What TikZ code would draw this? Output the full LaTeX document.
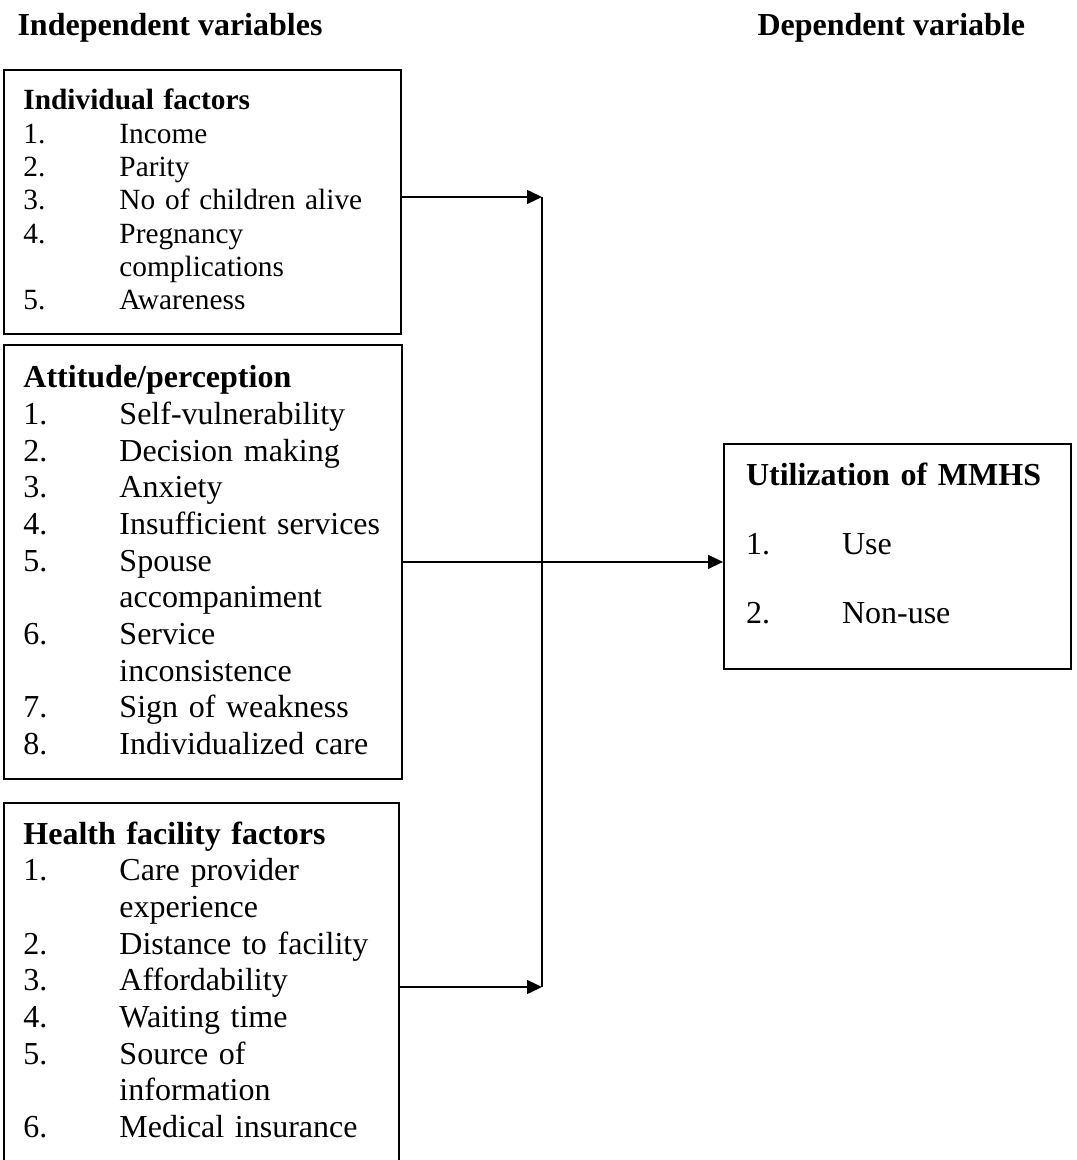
\documentclass[tikz,border=0pt]{standalone}
\usepackage{fontspec}
\setmainfont{Liberation Serif}
\usetikzlibrary{positioning}
\usetikzlibrary{arrows.meta}

\newcommand{\itm}[2]{\makebox[36pt][l]{#1}#2}
\newcommand{\cont}[1]{\hspace*{36pt}#1}

\begin{document}
\begin{tikzpicture}
	[x=0.375pt, y=-0.375pt,
	box/.style={draw, line width=0.75pt, anchor=north west, align=left, inner ysep=0pt, inner xsep=7.3pt},
	head/.style={anchor=base west, inner sep=0pt, font={\fontsize{12}{14}\selectfont\bfseries}},
	link/.style={line width=0.6pt},
	>={Triangle[length=5.6pt, width=5.2pt]}]

	\useasboundingbox (0,0) rectangle (1076,1160);

	% headings
	\node [head] (indep) at (17,36) {Independent variables};
	\node [head] (dep) at (757,36) {Dependent variable};

	% boxes
	\node [box, text width=134.3pt, text height=15pt, text depth=84pt, font={\fontsize{11}{12.5}\selectfont}] (ind) at (3,69)
		{\textbf{Individual factors}\\
		\itm{1.}{Income}\\
		\itm{2.}{Parity}\\
		\itm{3.}{No of children alive}\\
		\itm{4.}{Pregnancy}\\
		\cont{complications}\\
		\itm{5.}{Awareness}};
	\node [box, text width=134.6pt, text height=16.1pt, text depth=146.6pt, font={\fontsize{12}{13.75}\selectfont}] (att) at (3,344)
		{\textbf{Attitude/perception}\\
		\itm{1.}{Self-vulnerability}\\
		\itm{2.}{Decision making}\\
		\itm{3.}{Anxiety}\\
		\itm{4.}{Insufficient services}\\
		\itm{5.}{Spouse}\\
		\cont{accompaniment}\\
		\itm{6.}{Service}\\
		\cont{inconsistence}\\
		\itm{7.}{Sign of weakness}\\
		\itm{8.}{Individualized care}};
	\node [box, text width=133.5pt, text height=15.4pt, text depth=126pt, font={\fontsize{12}{13.75}\selectfont}] (hfac) at (3,802)
		{\textbf{Health facility factors}\\
		\itm{1.}{Care provider}\\
		\cont{experience}\\
		\itm{2.}{Distance to facility}\\
		\itm{3.}{Affordability}\\
		\itm{4.}{Waiting time}\\
		\itm{5.}{Source of}\\
		\cont{information}\\
		\itm{6.}{Medical insurance}};
	\node [box, inner xsep=8.25pt, text width=113.6pt, text height=15.75pt, text depth=68.6pt, font={\fontsize{12}{25.7}\selectfont}] (mmhs) at (723,443)
		{\textbf{Utilization of MMHS}\\
		\itm{1.}{Use}\\
		\itm{2.}{Non-use}};

	% joining line
	\coordinate (jtop) at (542,197);
	\coordinate (jbot) at (542,987);
	\draw [line width=0.4pt] (jtop) -- (jbot);

	% arrows
	\draw [link, ->] (ind.east |- jtop) -- (jtop);
	\draw [link, ->] (hfac.east |- jbot) -- (jbot);
	\draw [link, ->] (att.east) -- (att.east -| mmhs.west);
\end{tikzpicture}
\end{document}
